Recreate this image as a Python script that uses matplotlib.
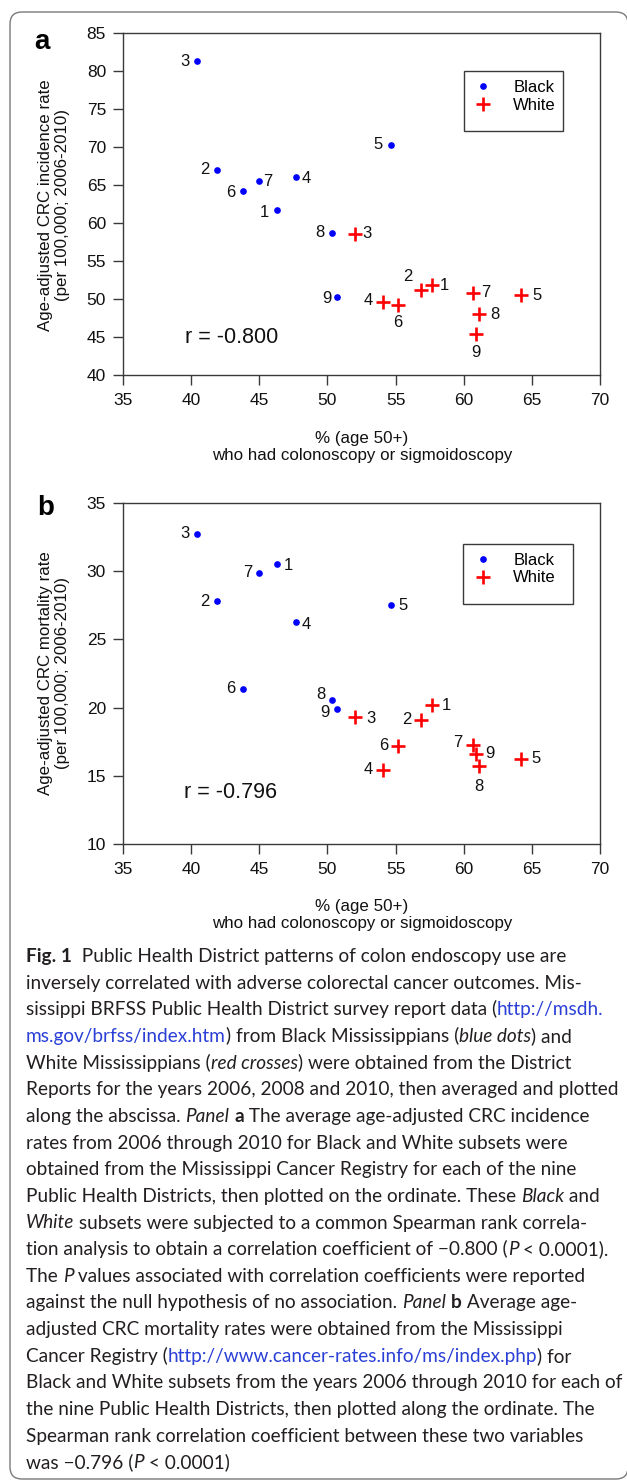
import matplotlib
matplotlib.use("Agg")
import matplotlib.pyplot as plt
from matplotlib.lines import Line2D
from matplotlib.patches import Rectangle, FancyBboxPatch

# ---------------- data ----------------
districts = [1, 2, 3, 4, 5, 6, 7, 8, 9]
black_x = [46.27, 41.90, 40.40, 47.67, 54.63, 43.82, 44.97, 50.37, 50.72]
white_x = [57.70, 56.87, 52.05, 54.06, 64.24, 55.17, 60.66, 61.14, 60.88]
incid_black = [61.7, 67.0, 81.3, 66.1, 70.3, 64.2, 65.5, 58.7, 50.3]
incid_white = [51.8, 51.2, 58.6, 49.6, 50.5, 49.2, 50.8, 48.0, 45.4]
mort_black = [30.56, 27.80, 32.73, 26.29, 27.49, 21.39, 29.88, 20.54, 19.88]
mort_white = [20.17, 19.12, 19.29, 15.45, 16.26, 17.19, 17.26, 15.75, 16.63]
x_ticks = [35, 40, 45, 50, 55, 60, 65, 70]
a_yticks = [40, 45, 50, 55, 60, 65, 70, 75, 80, 85]
b_yticks = [10, 15, 20, 25, 30, 35]
r_a = "r = -0.800"
r_b = "r = -0.796"

# label offsets in pixels (dx, dy up) for the district numbers
a_black_off = [(-12, -2), (-12, 0), (-12, 0), (11, -2), (-13, 0), (-12, -1.5), (9, 0), (-13, 0), (-10, -2)]
a_white_off = [(12, 0), (-13, 13), (12, 0), (-15, 2), (16, 0), (0, -17), (13, 0), (16, 0), (0, -19)]
b_black_off = [(12, -2), (-12, 0), (-12, 0), (11, -3), (12, 0), (-12, 0), (-11, 0), (-12, 6), (-12, -3)]
b_white_off = [(14, 0), (-14, 0), (16, -1), (-15, 0), (15, 0), (-14, 0), (-15, 2), (0, -21), (14, 0)]

W, H = 627, 1480
fig = plt.figure(figsize=(W / 100, H / 100), dpi=100)
fig.patch.set_facecolor("white")

PF = ["Liberation Sans", "DejaVu Sans"]
SPINE = "#3a3a3a"
INK = "#111111"


def fax(l, t, r, b):
    return fig.add_axes([l / W, 1 - b / H, (r - l) / W, (b - t) / H])


def px2pt(v):
    return v * 72 / 100.0


def panel(ax, ys_b, ys_w, yt, off_b, off_w, rtxt, rpos):
    ax.plot(black_x, ys_b, ls="none", marker="o", color="#0000ff", ms=3.8, zorder=3)
    ax.plot(white_x, ys_w, ls="none", marker="+", color="#ff0000", ms=9.5, mew=1.9, zorder=3)
    for i, d in enumerate(districts):
        dx, dy = off_b[i]
        ax.annotate(str(d), (black_x[i], ys_b[i]), xytext=(px2pt(dx), px2pt(dy)),
                    textcoords="offset points", ha="center", va="center",
                    fontsize=12, family=PF, color=INK)
        dx, dy = off_w[i]
        ax.annotate(str(d), (white_x[i], ys_w[i]), xytext=(px2pt(dx), px2pt(dy)),
                    textcoords="offset points", ha="center", va="center",
                    fontsize=12, family=PF, color=INK)
    ax.set_xlim(35, 70)
    ax.set_ylim(yt[0], yt[-1])
    ax.set_xticks(x_ticks)
    ax.set_xticklabels([str(v) for v in x_ticks], family=PF, fontsize=12.5)
    ax.set_yticks(yt)
    ax.set_yticklabels([str(v) for v in yt], family=PF, fontsize=12.5)
    ax.tick_params(axis="both", direction="out", length=7.2, width=1.0, color=SPINE,
                   labelcolor=INK)
    ax.tick_params(axis="x", pad=6)
    ax.tick_params(axis="y", pad=5)
    for s in ax.spines.values():
        s.set_color(SPINE)
        s.set_linewidth(1.0)
    ax.text(rpos[0], rpos[1], rtxt, fontsize=15.5, family=PF, va="center", ha="left",
            color=INK)


# panel a
axa = fax(123, 33, 600, 375)
panel(axa, incid_black, incid_white, a_yticks, a_black_off, a_white_off, r_a, (39.55, 44.87))
# panel b
axb = fax(123, 503, 600, 844)
panel(axb, mort_black, mort_white, b_yticks, b_black_off, b_white_off, r_b, (39.5, 13.81))

# legends
handles = [Line2D([], [], ls="none", marker="o", color="#0000ff", ms=3.8),
           Line2D([], [], ls="none", marker="+", color="#ff0000", ms=9.5, mew=1.9)]
for ax, top in ((axa, 80), (axb, 553)):
    ax.legend(handles, ["Black", "White"], loc="upper left",
              bbox_to_anchor=(475 / W, 1 - top / H), bbox_transform=fig.transFigure,
              frameon=False, borderpad=0, borderaxespad=0, handlelength=1.0,
              handletextpad=1.3, labelspacing=0.15, prop={"family": PF, "size": 12})

# overlay in pixel coordinates
ov = fig.add_axes([0, 0, 1, 1], zorder=5)
ov.set_xlim(0, W)
ov.set_ylim(H, 0)
ov.axis("off")
ov.patch.set_alpha(0)

ov.add_patch(Rectangle((464, 71), 99, 60, fill=False, ec=SPINE, lw=1.0))
ov.add_patch(Rectangle((463, 544), 110, 60, fill=False, ec=SPINE, lw=1.0))
ov.add_patch(FancyBboxPatch((10, 12), 618, 1467, boxstyle="round,pad=0,rounding_size=12",
                            fill=False, ec="#7a7a7a", lw=1.0, clip_on=False))

ov.text(42, 42, "a", fontsize=20, fontweight="bold", family=PF, ha="center", va="center")
ov.text(46, 508, "b", fontsize=20, fontweight="bold", family=PF, ha="center", va="center")

ov.text(54, 205, "Age-adjusted CRC incidence rate\n(per 100,000; 2006-2010)", rotation=90,
        fontsize=12.2, family=PF, ha="center", va="center", multialignment="center",
        linespacing=1.12, color=INK)
ov.text(54, 673, "Age-adjusted CRC mortality rate\n(per 100,000; 2006-2010)", rotation=90,
        fontsize=12.2, family=PF, ha="center", va="center", multialignment="center",
        linespacing=1.12, color=INK)
for yc in (447, 915):
    ov.text(362, yc, "% (age 50+)\nwho had colonoscopy or sigmoidoscopy", fontsize=12.2,
            family=PF, ha="center", va="center", multialignment="center", linespacing=1.15,
            color=INK)

# ---------------- caption ----------------
caption = [
    [("Fig. 1", "b"), ("  Public Health District patterns of colon endoscopy use are", "n")],
    [("inversely correlated with adverse colorectal cancer outcomes. Mis-", "n")],
    [("sissippi BRFSS Public Health District survey report data (", "n"), ("http://msdh.", "l")],
    [("ms.gov/brfss/index.htm", "l"), (") from Black Mississippians (", "n"), ("blue dots", "i"), (") and", "n")],
    [("White Mississippians (", "n"), ("red crosses", "i"), (") were obtained from the District", "n")],
    [("Reports for the years 2006, 2008 and 2010, then averaged and plotted", "n")],
    [("along the abscissa. ", "n"), ("Panel", "i"), (" ", "n"), ("a", "b"), (" The average age-adjusted CRC incidence", "n")],
    [("rates from 2006 through 2010 for Black and White subsets were", "n")],
    [("obtained from the Mississippi Cancer Registry for each of the nine", "n")],
    [("Public Health Districts, then plotted on the ordinate. These ", "n"), ("Black", "i"), (" and", "n")],
    [("White", "i"), (" subsets were subjected to a common Spearman rank correla-", "n")],
    [("tion analysis to obtain a correlation coefficient of \u22120.800 (", "n"), ("P", "i"), (" < 0.0001).", "n")],
    [("The ", "n"), ("P", "i"), (" values associated with correlation coefficients were reported", "n")],
    [("against the null hypothesis of no association. ", "n"), ("Panel", "i"), (" ", "n"), ("b", "b"), (" Average age-", "n")],
    [("adjusted CRC mortality rates were obtained from the Mississippi", "n")],
    [("Cancer Registry (", "n"), ("http://www.cancer-rates.info/ms/index.php", "l"), (") for", "n")],
    [("Black and White subsets from the years 2006 through 2010 for each of", "n")],
    [("the nine Public Health Districts, then plotted along the ordinate. The", "n")],
    [("Spearman rank correlation coefficient between these two variables", "n")],
    [("was \u22120.796 (", "n"), ("P", "i"), (" < 0.0001)", "n")],
]
CF = ["Lato", "DejaVu Sans"]
TXT = "#231f20"
LINK = "#2a3fd6"
renderer = fig.canvas.get_renderer()


def props(style, size):
    p = dict(family=CF, fontsize=size, color=TXT)
    if style == "b":
        p["fontweight"] = "bold"
    elif style == "i":
        p["fontstyle"] = "italic"
    elif style == "l":
        p["color"] = LINK
    return p


def text_w(s, p):
    t = ov.text(0, 0, "|" + s + "|", **p)
    t2 = ov.text(0, 0, "||", **p)
    w = t.get_window_extent(renderer).width - t2.get_window_extent(renderer).width
    t.remove()
    t2.remove()
    return w


# fit size so that the longest line spans the measured width
base = 12.0
ref_line = caption[5]
wbase = sum(text_w(s, props(st, base)) for s, st in ref_line)
size = base * 590.0 / wbase

x0 = 26
y0 = 962
step = 26.65
for i, line in enumerate(caption):
    x = x0
    y = y0 + i * step
    for s, st in line:
        p = props(st, size)
        ov.text(x, y, s, ha="left", va="baseline", **p)
        x += text_w(s, p)

fig.savefig("out.png", dpi=100)
